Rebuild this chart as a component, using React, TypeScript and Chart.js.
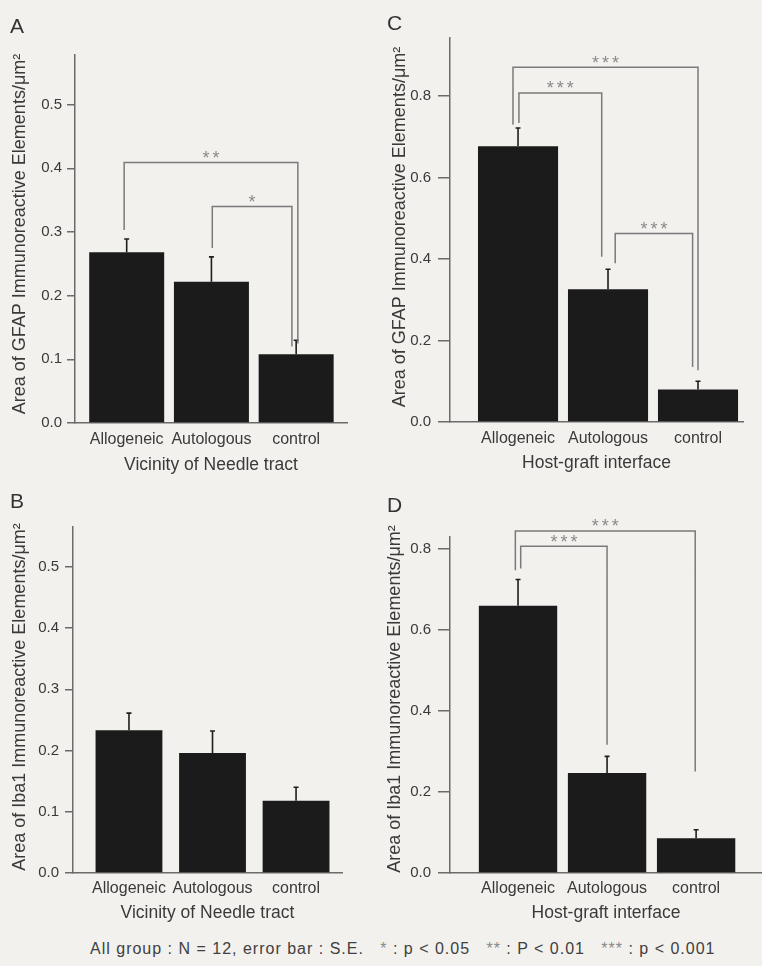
import React, { useEffect, useRef } from "react";
import { Chart, registerables } from "chart.js";

Chart.register(...registerables);

const FONT = "'Liberation Sans', Arial, Helvetica, sans-serif";
const TEXT = "#3a3a3a";
const AXIS = "#6b6b6b";
const BAR = "#1b1b1b";
const BRACKET = "#7a7a7a";
const STAR = "#8a8a8a";
const BG = "#f2f1ee";

// ---------- data ----------
const categories = ["Allogeneic", "Autologous", "control"];

const yTitleGFAP = "Area of GFAP Immunoreactive Elements/μm²";
const yTitleIba1 = "Area of Iba1 Immunoreactive Elements/μm²";
const xTitleNeedle = "Vicinity of Needle tract";
const xTitleInterface = "Host-graft interface";

// A: GFAP, vicinity of needle tract
const gfapNeedleMean = [0.268, 0.222, 0.108];
const gfapNeedleSE = [0.021, 0.039, 0.022];
const gfapNeedleBrackets = [
  { from: -0.03, to: 2.02, level: 0.409, fromY: 0.303, toY: 0.125, label: "**" },
  { from: 1.01, to: 1.95, level: 0.34, fromY: 0.275, toY: 0.12, label: "*" },
];

// C: GFAP, host-graft interface
const gfapInterfaceMean = [0.677, 0.326, 0.08];
const gfapInterfaceSE = [0.045, 0.049, 0.02];
const gfapInterfaceBrackets = [
  { from: -0.056, to: 2.0, level: 0.871, fromY: 0.73, toY: 0.127, label: "***" },
  { from: 0.01, to: 0.93, level: 0.808, fromY: 0.734, toY: 0.406, label: "***" },
  { from: 1.08, to: 1.94, level: 0.463, fromY: 0.39, toY: 0.135, label: "***" },
];

// B: Iba1, vicinity of needle tract
const iba1NeedleMean = [0.233, 0.196, 0.118];
const iba1NeedleSE = [0.028, 0.036, 0.022];
const iba1NeedleBrackets: any[] = [];

// D: Iba1, host-graft interface
const iba1InterfaceMean = [0.66, 0.247, 0.086];
const iba1InterfaceSE = [0.065, 0.041, 0.021];
const iba1InterfaceBrackets = [
  { from: -0.03, to: 1.99, level: 0.845, fromY: 0.748, toY: 0.251, label: "***" },
  { from: 0.03, to: 1.0, level: 0.807, fromY: 0.752, toY: 0.317, label: "***" },
];

const yTicksNeedle = 0.1;
const yTicksInterface = 0.2;

type Bracket = { from: number; to: number; level: number; fromY: number; toY: number; label: string };

type Spec = {
  letter: string;
  letterPos: [number, number];
  left: number;
  top: number;
  width: number;
  height: number;
  area: { left: number; right: number; top: number; bottom: number };
  xMin: number;
  xMax: number;
  yMax: number;
  yStep: number;
  barFrac: number;
  means: number[];
  se: number[];
  brackets: Bracket[];
  yTitle: string;
  xTitle: string;
  yTitleAt: [number, number];
  yTickLen: number;
  yTickPad: number;
  xTickPad: number;
  xTitlePad: number;
};

const specs: Spec[] = [
  {
    letter: "A", letterPos: [10, 15],
    left: 0, top: 0, width: 381, height: 480,
    area: { left: 75, right: 347, top: 55, bottom: 423 },
    xMin: -0.61, xMax: 2.6, yMax: 0.578, yStep: yTicksNeedle, barFrac: 0.885,
    means: gfapNeedleMean, se: gfapNeedleSE, brackets: gfapNeedleBrackets,
    yTitle: yTitleGFAP, xTitle: xTitleNeedle, yTitleAt: [20, 234],
    yTickLen: 8, yTickPad: 5, xTickPad: 7, xTitlePad: 4.5,
  },
  {
    letter: "C", letterPos: [387, 12],
    left: 381, top: 0, width: 381, height: 480,
    area: { left: 69, right: 362, top: 38, bottom: 422 },
    xMin: -0.756, xMax: 2.5, yMax: 0.943, yStep: yTicksInterface, barFrac: 0.89,
    means: gfapInterfaceMean, se: gfapInterfaceSE, brackets: gfapInterfaceBrackets,
    yTitle: yTitleGFAP, xTitle: xTitleInterface, yTitleAt: [19, 227],
    yTickLen: 12, yTickPad: 7, xTickPad: 7, xTitlePad: 6.5,
  },
  {
    letter: "B", letterPos: [10, 490],
    left: 0, top: 480, width: 381, height: 450,
    area: { left: 73, right: 342, top: 47, bottom: 393 },
    xMin: -0.67, xMax: 2.55, yMax: 0.565, yStep: yTicksNeedle, barFrac: 0.8,
    means: iba1NeedleMean, se: iba1NeedleSE, brackets: iba1NeedleBrackets,
    yTitle: yTitleIba1, xTitle: xTitleNeedle, yTitleAt: [20.5, 217],
    yTickLen: 8, yTickPad: 6, xTickPad: 5.5, xTitlePad: 6.5,
  },
  {
    letter: "D", letterPos: [387, 494],
    left: 381, top: 480, width: 381, height: 450,
    area: { left: 69, right: 381, top: 57, bottom: 393 },
    xMin: -0.764, xMax: 2.74, yMax: 0.83, yStep: yTicksInterface, barFrac: 0.88,
    means: iba1InterfaceMean, se: iba1InterfaceSE, brackets: iba1InterfaceBrackets,
    yTitle: yTitleIba1, xTitle: xTitleInterface, yTitleAt: [14, 219],
    yTickLen: 12, yTickPad: 7, xTickPad: 5.5, xTitlePad: 6.5,
  },
];

function Panel({ spec }: { spec: Spec }) {
  const ref = useRef<HTMLCanvasElement>(null);

  useEffect(() => {
    const canvas = ref.current;
    if (!canvas) return;
    const s = spec;

    const overlay = {
      id: "overlay" + s.letter,
      afterDatasetsDraw(chart: any) {
        const ctx = chart.ctx as CanvasRenderingContext2D;
        const x = chart.scales.x;
        const y = chart.scales.y;
        ctx.save();
        // error bars (upper S.E.)
        ctx.strokeStyle = "#1e1e1e";
        ctx.lineWidth = 1.6;
        s.means.forEach((m, i) => {
          const px = x.getPixelForValue(i);
          const yb = y.getPixelForValue(m);
          const yt = y.getPixelForValue(m + s.se[i]);
          ctx.beginPath();
          ctx.moveTo(px, yb);
          ctx.lineTo(px, yt);
          ctx.moveTo(px - 2.5, yt);
          ctx.lineTo(px + 2.5, yt);
          ctx.stroke();
        });
        // significance brackets
        s.brackets.forEach((b) => {
          const x1 = x.getPixelForValue(b.from);
          const x2 = x.getPixelForValue(b.to);
          const yl = y.getPixelForValue(b.level);
          ctx.strokeStyle = BRACKET;
          ctx.lineWidth = 1.5;
          ctx.beginPath();
          ctx.moveTo(x1, y.getPixelForValue(b.fromY));
          ctx.lineTo(x1, yl);
          ctx.lineTo(x2, yl);
          ctx.lineTo(x2, y.getPixelForValue(b.toY));
          ctx.stroke();
          ctx.fillStyle = STAR;
          ctx.font = `18px ${FONT}`;
          ctx.textAlign = "center";
          ctx.textBaseline = "alphabetic";
          const n = b.label.length;
          const cx = (x1 + x2) / 2;
          for (let k = 0; k < n; k++) {
            ctx.fillText("*", cx + (k - (n - 1) / 2) * 10, yl + 1.5);
          }
        });
        // y-axis title
        ctx.translate(s.yTitleAt[0], s.yTitleAt[1]);
        ctx.rotate(-Math.PI / 2);
        ctx.fillStyle = TEXT;
        ctx.font = `18px ${FONT}`;
        ctx.textAlign = "center";
        ctx.textBaseline = "middle";
        ctx.fillText(s.yTitle, 0, 0);
        ctx.restore();
      },
    };

    const chart = new Chart(canvas, {
      type: "bar",
      data: {
        datasets: [
          {
            data: s.means.map((v, i) => ({ x: i, y: v })),
            backgroundColor: BAR,
            borderWidth: 0,
            barPercentage: s.barFrac,
            categoryPercentage: 1,
          } as any,
        ],
      },
      options: {
        animation: false,
        responsive: false,
        devicePixelRatio: 1,
        layout: {
          padding: { left: 0, top: s.area.top, right: s.width - s.area.right, bottom: 0 },
        },
        plugins: {
          legend: { display: false },
          tooltip: { enabled: false },
          title: { display: false },
        },
        scales: {
          x: {
            type: "linear",
            min: s.xMin,
            max: s.xMax,
            offset: false,
            grid: { display: false, drawTicks: false, offset: false },
            border: { display: true, color: AXIS, width: 1.5 },
            afterBuildTicks: (axis: any) => {
              axis.ticks = categories.map((_, i) => ({ value: i }));
            },
            ticks: {
              callback: (v: any) => categories[v as number] ?? "",
              color: TEXT,
              font: { size: 16, family: FONT },
              padding: s.xTickPad,
              maxRotation: 0,
              autoSkip: false,
            },
            title: {
              display: true,
              text: s.xTitle,
              color: TEXT,
              font: { size: 17.5, family: FONT },
              padding: { top: 0, bottom: s.xTitlePad },
            },
            afterFit: (axis: any) => {
              axis.height = s.height - s.area.bottom;
            },
          } as any,
          y: {
            type: "linear",
            min: 0,
            max: s.yMax,
            grid: {
              display: true,
              drawOnChartArea: false,
              drawTicks: true,
              tickLength: s.yTickLen,
              color: AXIS,
              lineWidth: 1.5,
            },
            border: { display: true, color: AXIS, width: 1.5 },
            ticks: {
              stepSize: s.yStep,
              includeBounds: false,
              callback: (v: any) => Number(v).toFixed(1),
              color: TEXT,
              font: { size: 15, family: FONT },
              padding: s.yTickPad,
            },
            afterFit: (axis: any) => {
              axis.width = s.area.left;
            },
          } as any,
        },
      },
      plugins: [overlay],
    });

    return () => chart.destroy();
  }, [spec]);

  return (
    <>
      <canvas
        ref={ref}
        width={spec.width}
        height={spec.height}
        style={{
          position: "absolute",
          left: spec.left,
          top: spec.top,
          width: spec.width,
          height: spec.height,
          display: "block",
        }}
      />
      <div
        style={{
          position: "absolute",
          left: spec.letterPos[0],
          top: spec.letterPos[1],
          fontFamily: FONT,
          fontSize: 21,
          lineHeight: "21px",
          color: "#333",
        }}
      >
        {spec.letter}
      </div>
    </>
  );
}

export default function App() {
  return (
    <div
      style={{
        position: "fixed",
        left: 0,
        top: 0,
        width: 762,
        height: 966,
        background: BG,
        overflow: "hidden",
      }}
    >
      {specs.map((s) => (
        <Panel key={s.letter} spec={s} />
      ))}
      <div
        style={{
          position: "absolute",
          left: 90,
          top: 941,
          fontFamily: FONT,
          fontSize: 16,
          lineHeight: "16px",
          letterSpacing: "1px",
          color: "#404040",
          whiteSpace: "pre",
        }}
      >
        {"All group : N = 12, error bar : S.E.   "}
        <span style={{ color: STAR }}>*</span>
        {" : p < 0.05   "}
        <span style={{ color: STAR }}>**</span>
        {" : P < 0.01   "}
        <span style={{ color: STAR }}>***</span>
        {" : p < 0.001"}
      </div>
    </div>
  );
}
